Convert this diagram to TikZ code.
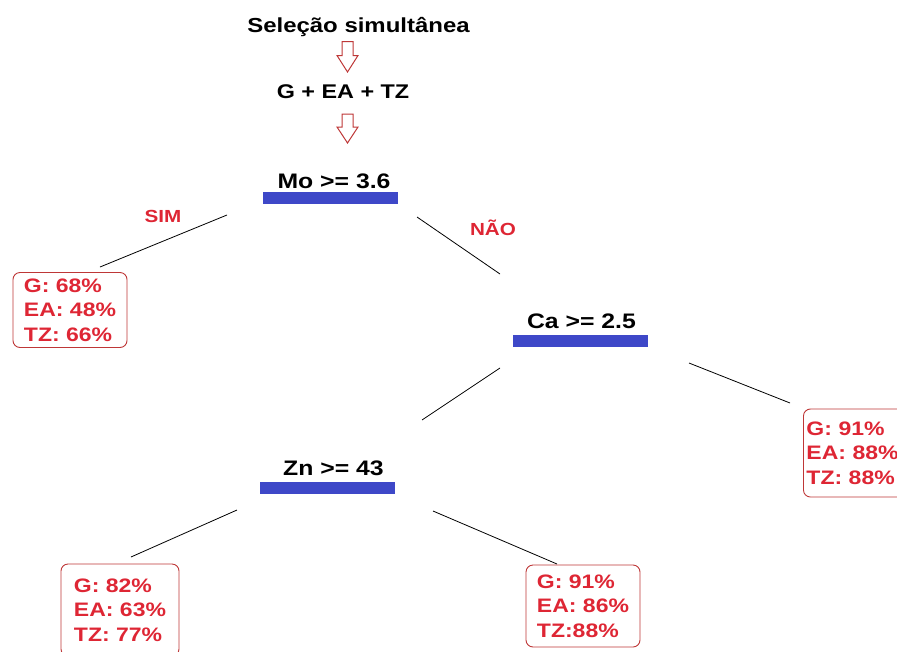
\documentclass[tikz,border=0pt]{standalone}
\usepackage{fontspec}
\setmainfont{Liberation Sans}[FakeStretch=1.18]
\definecolor{txtred}{RGB}{222,38,52}
\definecolor{boxred}{RGB}{190,55,55}
\definecolor{barblue}{RGB}{62,72,200}
\begin{document}
\begin{tikzpicture}[x={(1pt,0)},y={(0,-1pt)},
  lbl/.style={font=\bfseries\fontsize{21}{24}\selectfont,inner sep=0,anchor=base},
  redlbl/.style={font=\bfseries\fontsize{17.5}{20}\selectfont,inner sep=0,anchor=base,text=txtred},
  bar/.style={fill=barblue,inner sep=0,minimum width=135,minimum height=12},
  leaf/.style={draw=boxred,line width=0.9pt,rounded corners=7pt,text=txtred,align=left,
    font=\bfseries\fontsize{19.5}{24.5}\selectfont,inner sep=0},
  edge/.style={line width=0.8pt,black},
  harrow/.style={draw=boxred,line width=1pt,fill=white}]
\useasboundingbox (0,0) rectangle (897,651);
% header
\node[lbl,font=\bfseries\fontsize{20.3}{24}\selectfont] (title) at (358.5,32) {Seleção simultânea};
\node[lbl,font=\bfseries\fontsize{19.8}{22}\selectfont] (geatz) at (343,98) {G + EA + TZ};
\coordinate (a1) at (347.5,41.5);
\coordinate (a2) at (347.5,114);
\draw[harrow] (a1) ++(-5.5,0) -- ++(0,14) -- ++(-5,0) -- ++(10.5,16.5) -- ++(10.5,-16.5) -- ++(-5,0) -- ++(0,-14) -- cycle;
\draw[harrow] (a2) ++(-5.5,0) -- ++(0,13) -- ++(-5,0) -- ++(10.5,16) -- ++(10.5,-16) -- ++(-5,0) -- ++(0,-13) -- cycle;
% split nodes
\node[lbl] (mo) at (334,188) {Mo >= 3.6};
\node[bar] (mobar) at (330.5,198) {};
\node[lbl] (ca) at (581.5,328) {Ca >= 2.5};
\node[bar] (cabar) at (580.5,341) {};
\node[lbl] (zn) at (333.5,475) {Zn >= 43};
\node[bar] (znbar) at (327.5,488) {};
% branch labels
\node[redlbl] (sim) at (163,222) {SIM};
\node[redlbl] (nao) at (493,235) {NÃO};
% leaves
\node[leaf,minimum width=114,minimum height=75] (l1) at (70,310) {G: 68\%\\EA: 48\%\\TZ: 66\%};
\node[leaf,minimum height=88,anchor=west,inner xsep=3,text width=97] (l2) at (803,453) {G: 91\%\\EA: 88\%\\TZ: 88\%};
\node[leaf,minimum width=118,minimum height=92] (l3) at (120,610) {G: 82\%\\EA: 63\%\\TZ: 77\%};
\node[leaf,minimum width=114,minimum height=82] (l4) at (583,606) {G: 91\%\\EA: 86\%\\TZ:88\%};
% connectors
\coordinate (e1a) at (227,215); \coordinate (e1b) at (100,267);
\coordinate (e2a) at (417,217); \coordinate (e2b) at (500,274);
\coordinate (e3a) at (500,368); \coordinate (e3b) at (422,420);
\coordinate (e4a) at (689,363); \coordinate (e4b) at (790,403);
\coordinate (e5a) at (237,510); \coordinate (e5b) at (131,557);
\coordinate (e6a) at (433,511); \coordinate (e6b) at (557,564);
\draw[edge] (e1a) -- (e1b);
\draw[edge] (e2a) -- (e2b);
\draw[edge] (e3a) -- (e3b);
\draw[edge] (e4a) -- (e4b);
\draw[edge] (e5a) -- (e5b);
\draw[edge] (e6a) -- (e6b);
\end{tikzpicture}
\end{document}
